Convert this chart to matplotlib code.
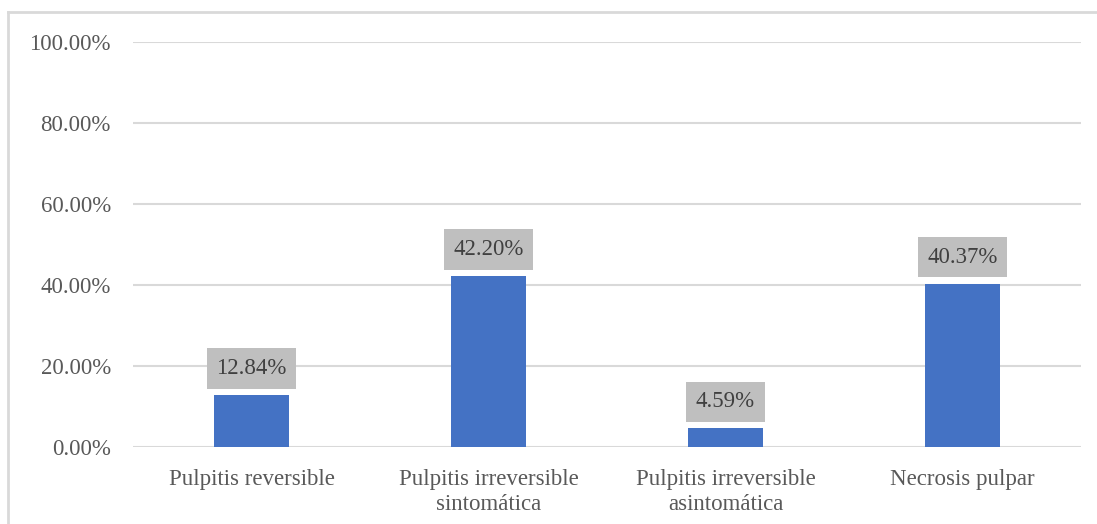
import matplotlib
matplotlib.use("Agg")
import matplotlib.pyplot as plt
from matplotlib.lines import Line2D
from matplotlib.ticker import FuncFormatter

categories = ["Pulpitis reversible", "Pulpitis irreversible\nsintomática",
              "Pulpitis irreversible\nasintomática", "Necrosis pulpar"]
values = [12.84, 42.20, 4.59, 40.37]
yticks = [0, 20, 40, 60, 80, 100]

plt.rcParams['font.family'] = ['Liberation Serif', 'DejaVu Serif']
W, H = 1097, 524
fig = plt.figure(figsize=(W / 100, H / 100), dpi=100)
ax = fig.add_axes([133 / W, (H - 447) / H, (1080.5 - 132.5) / W, (447 - 42) / H])

text_color = '#595959'
grid_color = '#D9D9D9'
bar_color = '#4472C4'

x = list(range(len(categories)))
ax.bar(x, values, width=0.32, color=bar_color, zorder=3)
ax.set_xlim(-0.5, len(categories) - 0.5)
ax.set_ylim(0, 100)
ax.set_yticks(yticks)
ax.yaxis.set_major_formatter(FuncFormatter(lambda v, p: f"{v:.2f}%"))
ax.set_xticks(x)
ax.set_xticklabels(categories, linespacing=1.25)
ax.tick_params(axis='y', length=0, pad=16, labelsize=16.5, labelcolor=text_color)
ax.tick_params(axis='x', length=0, pad=16, labelsize=16.5, labelcolor=text_color)
for s in ax.spines.values():
    s.set_visible(False)
ax.grid(axis='y', color=grid_color, linewidth=1.5, zorder=0)
ax.set_axisbelow(True)

for xi, v in zip(x, values):
    ax.annotate(f"{v:.2f}%", xy=(xi, v), xytext=(0, 11.5), textcoords='offset points',
                ha='center', va='bottom', fontsize=16.5, color='#404040',
                bbox=dict(boxstyle='square,pad=0.42', fc='#BFBFBF', ec='none'), zorder=4)

# outer chart border (partially visible)
fig.add_artist(Line2D([8 / W, 1], [1 - 12 / H, 1 - 12 / H], color=grid_color, lw=2, transform=fig.transFigure))
fig.add_artist(Line2D([8 / W, 8 / W], [0, 1 - 12 / H], color=grid_color, lw=2, transform=fig.transFigure))

fig.savefig("out.png", dpi=100)
